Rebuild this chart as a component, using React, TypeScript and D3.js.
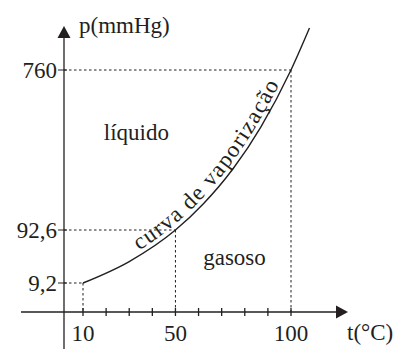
import React, { useEffect, useRef } from "react";
import * as d3 from "d3";

const tempC = [10, 30, 50, 62, 75, 87, 100, 108];
const pressure = [9.2, 43, 92.6, 201, 349, 523, 760, 935];

// valores marcados com tracejado
const markedT = [10, 50, 100];
const markedP = [9.2, 92.6, 760];
const yTickLabels = ["9,2", "92,6", "760"];
const xTickLabels = ["10", "50", "100"];
const xMinorTicks = d3.range(10, 101, 10);

const regionLabels = [
  { text: "líquido", t: 19, p: 470 },
  { text: "gasoso", t: 62, p: 37 },
];

const width = 394;
const height = 349;
const axisX = 64; // posição do eixo p
const axisY = 312; // posição do eixo t
const ink = "#231f20";
const font =
  "'Liberation Serif', Tinos, 'Noto Serif', 'DejaVu Serif', FreeSerif, 'Times New Roman', Times, serif";

const x = d3.scaleLinear().domain([10, 100]).range([83, 291]);
// escala esquemática (não linear na figura), por trechos
const y = d3.scaleLinear().domain([0, 9.2, 92.6, 760]).range([axisY, 283, 230, 70]);

function App() {
  const ref = useRef<SVGSVGElement | null>(null);

  useEffect(() => {
    const svg = d3.select(ref.current);
    svg.selectAll("*").remove();

    const pts: [number, number][] = tempC.map((t, i) => [x(t), y(pressure[i])]);

    // tracejados
    const dashes = svg.append("g")
      .attr("stroke", ink)
      .attr("stroke-width", 1)
      .attr("stroke-dasharray", "2.5,2.5");
    markedT.forEach((t, i) => {
      dashes.append("line")
        .attr("x1", axisX).attr("x2", x(t))
        .attr("y1", y(markedP[i])).attr("y2", y(markedP[i]));
      dashes.append("line")
        .attr("x1", x(t)).attr("x2", x(t))
        .attr("y1", y(markedP[i])).attr("y2", axisY);
    });

    // eixos
    const axes = svg.append("g").attr("stroke", ink).attr("stroke-width", 1.3);
    axes.append("line").attr("x1", 21).attr("x2", 338).attr("y1", axisY).attr("y2", axisY);
    axes.append("line").attr("x1", axisX).attr("x2", axisX).attr("y1", height).attr("y2", 36);
    svg.append("path")
      .attr("d", `M348,${axisY} L336,${axisY - 6.5} L336,${axisY + 6.5} Z`)
      .attr("fill", ink);
    svg.append("path")
      .attr("d", `M${axisX},26 L${axisX - 6.5},38 L${axisX + 6.5},38 Z`)
      .attr("fill", ink);

    // marcas
    axes.selectAll(".xtick")
      .data(xMinorTicks)
      .enter()
      .append("line")
      .attr("x1", (d) => x(d)).attr("x2", (d) => x(d))
      .attr("y1", axisY - 4).attr("y2", axisY + 4);
    axes.selectAll(".ytick")
      .data(markedP)
      .enter()
      .append("line")
      .attr("x1", axisX - 6).attr("x2", axisX + 3)
      .attr("y1", (d) => y(d)).attr("y2", (d) => y(d))
      .attr("stroke-width", 1);

    // curva
    const line = d3.line().curve(d3.curveMonotoneX);
    svg.append("path")
      .attr("d", line(pts))
      .attr("fill", "none")
      .attr("stroke", ink)
      .attr("stroke-width", 1.4);

    // caminho do texto, um pouco acima da curva
    svg.append("defs").append("path")
      .attr("id", "curva-texto")
      .attr("d", line(pts.map(([px, py]) => [px - 3, py - 3.5] as [number, number])));

    const text = svg.append("g")
      .attr("fill", ink)
      .style("font-family", font)
      .style("font-size", "23px");

    text.append("text")
      .append("textPath")
      .attr("href", "#curva-texto")
      .attr("startOffset", 66)
      .attr("textLength", 220)
      .attr("lengthAdjust", "spacing")
      .text("curva de vaporização");

    text.selectAll(".ylab")
      .data(markedP)
      .enter()
      .append("text")
      .attr("x", 57)
      .attr("y", (d) => y(d))
      .attr("dy", "0.33em")
      .attr("text-anchor", "end")
      .text((d, i) => yTickLabels[i]);

    text.selectAll(".xlab")
      .data(markedT)
      .enter()
      .append("text")
      .attr("x", (d) => x(d))
      .attr("y", 341)
      .attr("text-anchor", "middle")
      .text((d, i) => xTickLabels[i]);

    text.selectAll(".region")
      .data(regionLabels)
      .enter()
      .append("text")
      .attr("x", (d) => x(d.t))
      .attr("y", (d) => y(d.p))
      .text((d) => d.text);

    text.append("text").attr("x", 79).attr("y", 33).text("p(mmHg)");
    text.append("text").attr("x", 347).attr("y", 340).text("t(°C)");
  }, []);

  return (
    <svg
      ref={ref}
      width={width}
      height={height}
      style={{ position: "absolute", left: 0, top: 0, background: "#fff", fontFamily: font }}
    />
  );
}

export default App;
